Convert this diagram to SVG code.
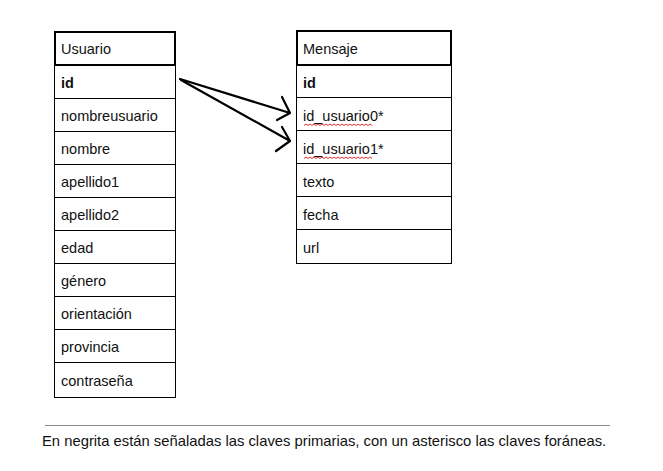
<svg xmlns="http://www.w3.org/2000/svg" width="663" height="471" viewBox="0 0 663 471">
<style>
.t{font-family:"Liberation Sans",Arial,sans-serif;font-size:14.5px;fill:#111}
.b{font-weight:bold}
.cell{fill:#fff;stroke:#000;stroke-width:1}
.hdr{fill:#fff;stroke:#000;stroke-width:2}
.arr{fill:none;stroke:#000;stroke-width:2.2;stroke-linecap:round;stroke-linejoin:round}
.sq{fill:none;stroke:#e03030;stroke-width:1}
</style>
<rect width="663" height="471" fill="#fff"/>
<g id="usuario">
<rect class="cell" x="54.5" y="64.5" width="121" height="333"/>
<path d="M54.5 98.5H175.5M54.5 131.5H175.5M54.5 164.5H175.5M54.5 197.5H175.5M54.5 230.5H175.5M54.5 263.5H175.5M54.5 296.5H175.5M54.5 329.5H175.5M54.5 362.5H175.5" stroke="#000" stroke-width="1"/>
<rect class="hdr" x="55" y="32" width="120" height="33"/>
<text class="t" x="61" y="54">Usuario</text>
<text class="t b" x="61" y="88">id</text>
<text class="t" x="61" y="121">nombreusuario</text>
<text class="t" x="61" y="154">nombre</text>
<text class="t" x="61" y="187">apellido1</text>
<text class="t" x="61" y="220">apellido2</text>
<text class="t" x="61" y="253">edad</text>
<text class="t" x="61" y="286">género</text>
<text class="t" x="61" y="319">orientación</text>
<text class="t" x="61" y="352">provincia</text>
<text class="t" x="61" y="386">contraseña</text>
</g>
<g id="mensaje">
<rect class="cell" x="296.5" y="64.5" width="155" height="199"/>
<path d="M296.5 97.5H451.5M296.5 130.5H451.5M296.5 163.5H451.5M296.5 196.5H451.5M296.5 229.5H451.5" stroke="#000" stroke-width="1"/>
<rect class="hdr" x="297" y="31" width="154" height="34"/>
<text class="t" x="303" y="54">Mensaje</text>
<text class="t b" x="303" y="88">id</text>
<text class="t" x="303" y="121">id_usuario0*</text>
<path class="sq" d="M304 125.5l2 -1.5l2 1.5l2 -1.5l2 1.5l2 -1.5l2 1.5l2 -1.5l2 1.5l2 -1.5l2 1.5l2 -1.5l2 1.5l2 -1.5l2 1.5l2 -1.5l2 1.5l2 -1.5l2 1.5l2 -1.5l2 1.5l2 -1.5l2 1.5l2 -1.5l2 1.5l2 -1.5l2 1.5l2 -1.5l2 1.5l2 -1.5l2 1.5l2 -1.5l2 1.5l2 -1.5l2 1.5"/>
<text class="t" x="303" y="154">id_usuario1*</text>
<path class="sq" d="M304 158.5l2 -1.5l2 1.5l2 -1.5l2 1.5l2 -1.5l2 1.5l2 -1.5l2 1.5l2 -1.5l2 1.5l2 -1.5l2 1.5l2 -1.5l2 1.5l2 -1.5l2 1.5l2 -1.5l2 1.5l2 -1.5l2 1.5l2 -1.5l2 1.5l2 -1.5l2 1.5l2 -1.5l2 1.5l2 -1.5l2 1.5l2 -1.5l2 1.5l2 -1.5l2 1.5l2 -1.5l2 1.5"/>
<text class="t" x="303" y="187">texto</text>
<text class="t" x="303" y="220">fecha</text>
<text class="t" x="303" y="253">url</text>
</g>
<g id="connectors">
<path class="arr" d="M180 79L290 113M282 97L290 113L277 120"/>
<path class="arr" d="M181 80L290 141M282 127L290 141L276 151"/>
</g>
<g id="nota">
<line x1="45" y1="425.5" x2="610" y2="425.5" stroke="#888" stroke-width="1"/>
<text class="t" x="42" y="446" style="font-size:14.8px">En negrita están señaladas las claves primarias, con un asterisco las claves foráneas.</text>
</g>
</svg>
